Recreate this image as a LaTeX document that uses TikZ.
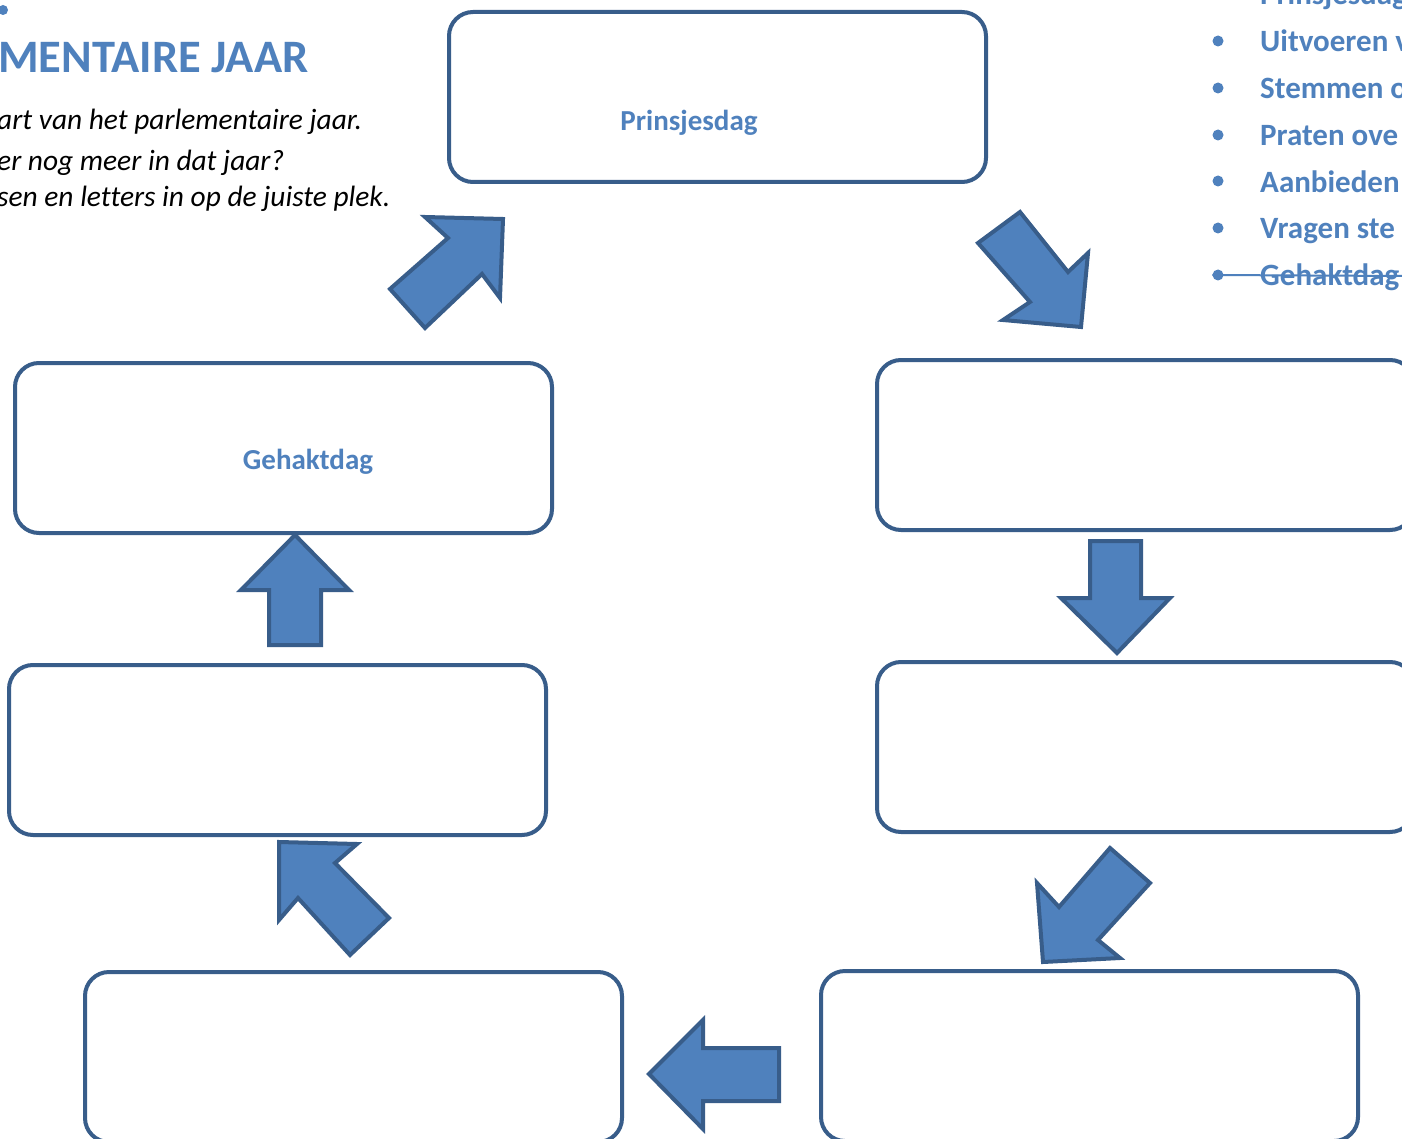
\documentclass[tikz,border=0pt]{standalone}
\usepackage{fontspec}
\setmainfont{Carlito}[Ligatures=NoCommon]
\definecolor{accent}{HTML}{4F81BD}
\definecolor{edge}{HTML}{385D8A}
\tikzset{
 stage/.style={draw=edge, line width=4pt, fill=white, rectangle, rounded corners=24pt, minimum width=537pt, minimum height=170pt, inner sep=0pt},
 blockarrow/.style={draw=edge, fill=accent, line width=4pt, line join=miter},
 boxlabel/.style={text=accent, font=\fontsize{29}{35}\selectfont\bfseries, anchor=base, inner sep=0pt},
 listitem/.style={text=accent, font=\fontsize{31}{37}\selectfont\bfseries, anchor=base west, inner sep=0pt},
 instr/.style={font=\fontsize{29.4}{35}\selectfont\itshape, anchor=base west, inner sep=0pt},
 bulletdot/.style={circle, fill=accent, inner sep=0pt, minimum size=11pt},
}
\begin{document}
\begin{tikzpicture}[x=1pt,y=-1pt]
\useasboundingbox (0,0) rectangle (1402,1139);
\clip (0,0) rectangle (1402,1139);
\fill[white] (0,0) rectangle (1402,1139);

% header text
\node[bulletdot, minimum size=10pt] (hdot) at (3,10) {};
\node[text=accent, font=\fontsize{46.5}{55}\selectfont\bfseries, anchor=base west, inner sep=0pt] (title) at (-2,73) {MENTAIRE JAAR};
\node[instr] (l1) at (-3,130) {art van het parlementaire jaar.};
\node[instr] (l2) at (-3,171) {er nog meer in dat jaar?};
\node[instr] (l3) at (-3,207) {sen en letters in op de juiste plek.};

% list on the right
\node[bulletdot] (b0) at (1218,-6) {};
\node[listitem] (t0) at (1260,5) {Prinsjesdag};
\node[bulletdot] (b1) at (1218,41) {};
\node[listitem] (t1) at (1260,52) {Uitvoeren v};
\node[bulletdot] (b2) at (1218,88) {};
\node[listitem] (t2) at (1260,99) {Stemmen o};
\node[bulletdot] (b3) at (1218,135) {};
\node[listitem] (t3) at (1260,146) {Praten ove};
\node[bulletdot] (b4) at (1218,181) {};
\node[listitem] (t4) at (1260,193) {Aanbieden};
\node[bulletdot] (b5) at (1218,228) {};
\node[listitem] (t5) at (1260,239) {Vragen ste};
\node[bulletdot] (b6) at (1218,275) {};
\node[listitem] (t6) at (1260,286) {Gehaktdag};
\coordinate (sEnd) at (1402,276);
\draw[accent, line width=2pt] (b6.west) -- (sEnd);

% boxes
\node[stage] (prins) at (717.5,97) {};
\node[stage] (r1) at (1145.5,445) {};
\node[stage] (r2) at (1145.5,747) {};
\node[stage] (br) at (1089.5,1056) {};
\node[stage] (bl) at (353.5,1057) {};
\node[stage] (lm) at (277.5,750) {};
\node[stage] (lu) at (283.5,448) {};
\node[boxlabel] (prinsl) at (689,131) {Prinsjesdag};
\node[boxlabel] (gehl) at (308,469) {Gehaktdag};

% block arrows
\draw[blockarrow] (978,243) -- (1020,212) -- (1068,272) -- (1088,253) -- (1081,327) -- (1003,320) -- (1030,302) -- cycle;
\draw[blockarrow] (1090,541) -- (1141,541) -- (1141,598) -- (1170,598) -- (1117,653) -- (1061,598) -- (1090,598) -- cycle;
\draw[blockarrow] (1037,883) -- (1059,907) -- (1110,848) -- (1150,883) -- (1098,940) -- (1120,958) -- (1043,962) -- cycle;
\draw[blockarrow] (649,1074) -- (703,1020) -- (703,1048) -- (779,1048) -- (779,1101) -- (703,1101) -- (703,1129) -- cycle;
\draw[blockarrow] (279,842) -- (357,844) -- (335,863) -- (389,918) -- (350,955) -- (298,898) -- (279,920) -- cycle;
\draw[blockarrow] (295,535) -- (349,590) -- (321,590) -- (321,645) -- (269,645) -- (269,590) -- (241,590) -- cycle;
\draw[blockarrow] (503,219) -- (500,298) -- (482,274) -- (425,328) -- (390,289) -- (448,238) -- (425,217) -- cycle;
\end{tikzpicture}
\end{document}
